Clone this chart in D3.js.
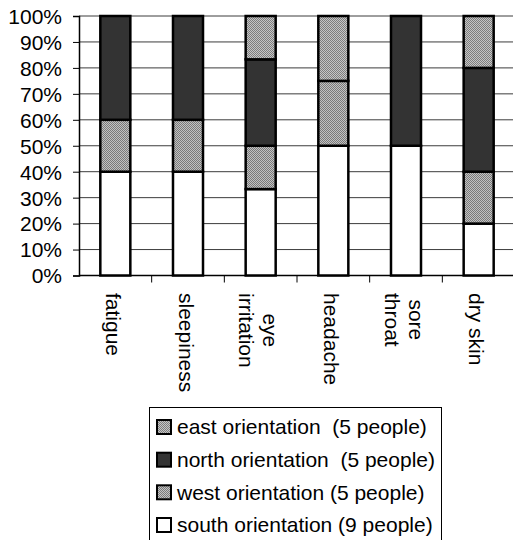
<!DOCTYPE html>
<html>
<head>
<meta charset="utf-8">
<script src="https://cdn.jsdelivr.net/npm/d3@7"></script>
<style>
  body { margin: 0; background: #fff; }
  svg { display: block; }
  text { font-family: "Liberation Sans", Arial, sans-serif; fill: #000; }
</style>
</head>
<body>
<svg id="chart" width="513" height="540"></svg>
<script>
// Symptom shares (%) by office orientation
const categories = ["fatigue", "sleepiness", "eye\nirritation", "headache", "sore\nthroat", "dry skin"];
const south = [40, 40, 33.3, 50, 50, 20];
const west  = [20, 20, 16.7, 25, 0, 20];
const north = [40, 40, 33.3, 0, 50, 40];
const east  = [0, 0, 16.7, 25, 0, 20];
const yTicks = [0, 10, 20, 30, 40, 50, 60, 70, 80, 90, 100];
const seriesKeys = ["south", "west", "north", "east"];
const legendKeys = ["east", "north", "west", "south"];
const legendLabels = ["east orientation  (5 people)", "north orientation  (5 people)", "west orientation (5 people)", "south orientation (9 people)"];

const svg = d3.select("#chart");
const W = 513, H = 540;
const plot = { left: 79, right: 515, top: 16, bottom: 275.5 };
const FS = 21;

const rows = categories.map((c, i) => ({ cat: c, south: south[i], west: west[i], north: north[i], east: east[i] }));
const stacked = d3.stack().keys(seriesKeys)(rows);

const x = d3.scaleBand().domain(categories).range([plot.left, plot.right]).padding(0);
const y = d3.scaleLinear().domain([0, 100]).range([plot.bottom, plot.top]);
const barW = x.bandwidth() * 0.413;

// fill patterns
const defs = svg.append("defs");
function dither(id, dark, light) {
  const p = defs.append("pattern").attr("id", id).attr("width", 2).attr("height", 2)
    .attr("patternUnits", "userSpaceOnUse");
  p.append("rect").attr("width", 2).attr("height", 2).attr("fill", light);
  p.append("rect").attr("width", 1).attr("height", 1).attr("fill", dark);
  p.append("rect").attr("x", 1).attr("y", 1).attr("width", 1).attr("height", 1).attr("fill", dark);
}
dither("dWest", "#7a7a7a", "#c2c2c2");
dither("dEast", "#7e7e7e", "#c6c6c6");
const fills = { south: "#ffffff", west: "url(#dWest)", north: "#333333", east: "url(#dEast)" };

svg.append("rect").attr("width", W).attr("height", H).attr("fill", "#fff");

// gridlines
svg.append("g").selectAll("line").data(yTicks.filter(t => t > 0)).join("line")
  .attr("x1", plot.left).attr("x2", W)
  .attr("y1", d => y(d)).attr("y2", d => y(d))
  .attr("stroke", "#3c3c3c").attr("stroke-width", 1);

// y axis
const yAxis = d3.axisLeft(y).tickValues(yTicks).tickFormat(d => d + "%").tickSize(6).tickPadding(11);
const gy = svg.append("g").attr("transform", `translate(${plot.left},0)`).call(yAxis);
gy.select(".domain").attr("stroke", "#000").attr("stroke-width", 1.5);
gy.selectAll(".tick line").attr("stroke", "#000");
gy.selectAll(".tick text").attr("font-size", FS).attr("font-family", null).attr("dy", "0.35em");

// x axis line and ticks at band boundaries
svg.append("line").attr("x1", plot.left).attr("x2", W).attr("y1", plot.bottom).attr("y2", plot.bottom)
  .attr("stroke", "#000").attr("stroke-width", 1.5);
svg.append("g").selectAll("line").data(categories.slice(1)).join("line")
  .attr("x1", d => x(d)).attr("x2", d => x(d))
  .attr("y1", plot.bottom).attr("y2", plot.bottom + 7)
  .attr("stroke", "#000").attr("stroke-width", 1);

// stacked bars
svg.append("g").selectAll("g").data(stacked).join("g")
  .attr("fill", d => fills[d.key])
  .selectAll("rect").data(d => d.filter(s => s[1] - s[0] > 0)).join("rect")
  .attr("x", d => x(d.data.cat) + (x.bandwidth() - barW) / 2)
  .attr("width", barW)
  .attr("y", d => y(d[1]))
  .attr("height", d => y(d[0]) - y(d[1]))
  .attr("stroke", "#000").attr("stroke-width", 2.5);

// category labels, rotated to read downward
const lh = 24;
const labelTop = 293;
categories.forEach(c => {
  const lines = c.split("\n");
  const cx = x(c) + x.bandwidth() / 2 - 2;
  const t = svg.append("text").attr("font-size", FS).attr("text-anchor", "middle");
  lines.forEach((ln, k) => {
    t.append("tspan").attr("x", 0).attr("y", (k - (lines.length - 1) / 2) * lh)
      .attr("dominant-baseline", "central").text(ln);
  });
  let maxLen = 0;
  t.selectAll("tspan").each(function () { maxLen = Math.max(maxLen, this.getComputedTextLength()); });
  t.attr("transform", `translate(${cx},${labelTop + maxLen / 2}) rotate(90)`);
});

// legend
const lg = svg.append("g");
lg.append("rect").attr("x", 149.5).attr("y", 407.5).attr("width", 292).attr("height", 150)
  .attr("fill", "#fff").attr("stroke", "#000").attr("stroke-width", 1);
const rowY = [427, 459.7, 492.3, 525];
legendKeys.forEach((k, i) => {
  lg.append("rect").attr("x", 157).attr("y", rowY[i] - 7).attr("width", 14).attr("height", 14)
    .attr("fill", fills[k]).attr("stroke", "#000").attr("stroke-width", 2);
  lg.append("text").attr("x", 177).attr("y", rowY[i]).attr("dy", "0.35em")
    .attr("font-size", FS).style("white-space", "pre").text(legendLabels[i]);
});
</script>
</body>
</html>
